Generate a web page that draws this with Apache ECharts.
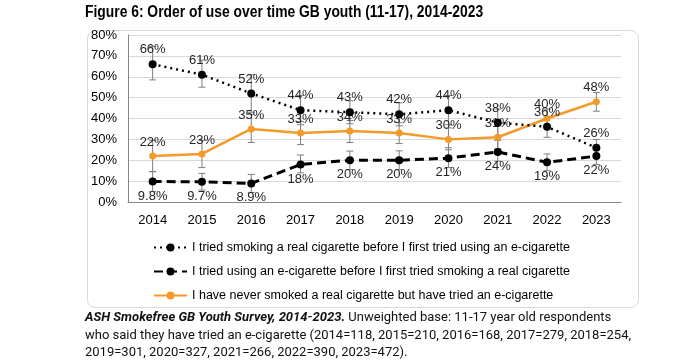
<!DOCTYPE html>
<html><head><meta charset="utf-8">
<script src="https://cdn.jsdelivr.net/npm/echarts@6/dist/echarts.min.js"></script>
<style>html,body{margin:0;padding:0;background:#fff}#c{width:700px;height:363px}</style>
</head><body><div id="c"></div>
<script>
var years = ['2014','2015','2016','2017','2018','2019','2020','2021','2022','2023'];
var seriesNames = [
  'I tried smoking a real cigarette before I first tried using an e-cigarette',
  'I tried using an e-cigarette before I first tried smoking a real cigarette',
  'I have never smoked a real cigarette but have tried an e-cigarette'
];
var smokedFirst = [66, 61, 52, 44, 43, 42, 44, 38, 36, 26];
var smokedFirstLow = [58.5, 55, 43, 37, 37.5, 36.5, 37, 31.5, 31, 22];
var smokedFirstHigh = [74.5, 68, 61, 51, 48.5, 47.5, 51, 44.5, 41, 30];
var vapedFirst = [9.8, 9.7, 8.9, 18, 20, 20, 21, 24, 19, 22];
var vapedFirstLow = [5, 5.7, 4.6, 14, 15.5, 15.5, 16.5, 19.5, 15, 18];
var vapedFirstHigh = [14.6, 13.7, 13.2, 22.5, 24.4, 24.5, 26, 29.5, 23, 26.5];
var neverSmoked = [22, 23, 35, 33, 34, 33, 30, 31, 40, 48];
var neverSmokedLow = [14.5, 16.5, 28.5, 27.5, 28.5, 28, 25, 25.5, 35.5, 43.5];
var neverSmokedHigh = [29.5, 29.5, 42, 38.5, 39, 38, 35.5, 36.5, 44.5, 52.5];
var yTicks = [0, 10, 20, 30, 40, 50, 60, 70, 80];

var FONT = "'Liberation Sans', sans-serif";
var FOOTFONT = "Roboto, 'Liberation Sans', sans-serif";

function errData(lo, hi) {
  return years.map(function (y, i) { return [i, lo[i], hi[i]]; });
}
function errSeries(lo, hi) {
  return {
    type: 'custom',
    silent: true,
    z: 1,
    data: errData(lo, hi),
    encode: { x: 0, y: [1, 2] },
    renderItem: function (params, api) {
      var x = api.value(0);
      var p1 = api.coord([x, api.value(1)]);
      var p2 = api.coord([x, api.value(2)]);
      var w = 3.5;
      var st = { stroke: '#7f7f7f', lineWidth: 1 };
      return {
        type: 'group',
        children: [
          { type: 'line', shape: { x1: p1[0], y1: p1[1], x2: p2[0], y2: p2[1] }, style: st },
          { type: 'line', shape: { x1: p1[0] - w, y1: p1[1], x2: p1[0] + w, y2: p1[1] }, style: st },
          { type: 'line', shape: { x1: p2[0] - w, y1: p2[1], x2: p2[0] + w, y2: p2[1] }, style: st }
        ]
      };
    }
  };
}
var pct = function (p) { return p.value + '%'; };
var labelBase = { show: true, formatter: pct, fontFamily: FONT, fontSize: 13, color: '#262626', distance: 4 };

var chart = echarts.init(document.getElementById('c'), null, { renderer: 'canvas' });
chart.setOption({
  animation: false,
  backgroundColor: '#fff',
  graphic: [
    {
      type: 'text', x: 85, y: 5, scaleX: 0.866,
      style: { text: 'Figure 6: Order of use over time GB youth (11-17), 2014-2023', font: 'bold 16px ' + FONT, fill: '#000' }
    },
    { type: 'rect', left: 85, top: 28, shape: { width: 551, height: 277, r: 8 }, style: { fill: 'none', stroke: '#d9d9d9', lineWidth: 1 }, z: -1 },
    {
      type: 'text', left: 85, top: 309,
      style: {
        text: '{b|ASH Smokefree GB Youth Survey, 2014-2023.} Unweighted base: 11-17 year old respondents\nwho said they have tried an e-cigarette (2014=118, 2015=210, 2016=168, 2017=279, 2018=254,\n2019=301, 2020=327, 2021=266, 2022=390, 2023=472).',
        font: '13px ' + FOOTFONT,
        fill: '#111',
        lineHeight: 17.5,
        rich: {
          b: { fontFamily: FOOTFONT, fontWeight: 'bold', fontStyle: 'italic', fontSize: 13, fill: '#111', lineHeight: 17.5 }
        }
      }
    }
  ],
  legend: {
    data: seriesNames,
    orient: 'vertical',
    left: 148, top: 235,
    itemWidth: 33, itemHeight: 10, itemGap: 9,
    textStyle: { fontFamily: FONT, fontSize: 12.5, color: '#000', lineHeight: 15 }
  },
  grid: { left: 128, right: 79, top: 35, bottom: 161, containLabel: false },
  xAxis: {
    type: 'category', data: years, boundaryGap: true,
    axisLine: { lineStyle: { color: '#868686' } },
    axisTick: { alignWithLabel: true, length: 4, lineStyle: { color: '#868686' } },
    axisLabel: { fontFamily: FONT, fontSize: 13, color: '#000', margin: 12 }
  },
  yAxis: {
    type: 'value', min: yTicks[0], max: yTicks[yTicks.length - 1], interval: 10,
    axisLine: { show: true, lineStyle: { color: '#868686' } },
    axisTick: { show: false },
    splitLine: { lineStyle: { color: '#d9d9d9' } },
    axisLabel: { formatter: '{value}%', fontFamily: FONT, fontSize: 13, color: '#000', margin: 11 }
  },
  series: [
    errSeries(smokedFirstLow, smokedFirstHigh),
    errSeries(vapedFirstLow, vapedFirstHigh),
    errSeries(neverSmokedLow, neverSmokedHigh),
    {
      name: seriesNames[0], type: 'line', data: smokedFirst, z: 3,
      symbol: 'circle', symbolSize: 8,
      itemStyle: { color: '#000' },
      lineStyle: { color: '#000', width: 2.5, type: [2, 4] },
      label: Object.assign({}, labelBase, { position: 'top' })
    },
    {
      name: seriesNames[1], type: 'line', data: vapedFirst, z: 3,
      symbol: 'circle', symbolSize: 8,
      itemStyle: { color: '#000' },
      lineStyle: { color: '#000', width: 3, type: [9, 5] },
      label: Object.assign({}, labelBase, { position: 'bottom' })
    },
    {
      name: seriesNames[2], type: 'line', data: neverSmoked, z: 2,
      symbol: 'circle', symbolSize: 7,
      itemStyle: { color: '#f39a2a' },
      lineStyle: { color: '#f39a2a', width: 2.5 },
      label: Object.assign({}, labelBase, { position: 'top' })
    }
  ]
});
</script></body></html>
